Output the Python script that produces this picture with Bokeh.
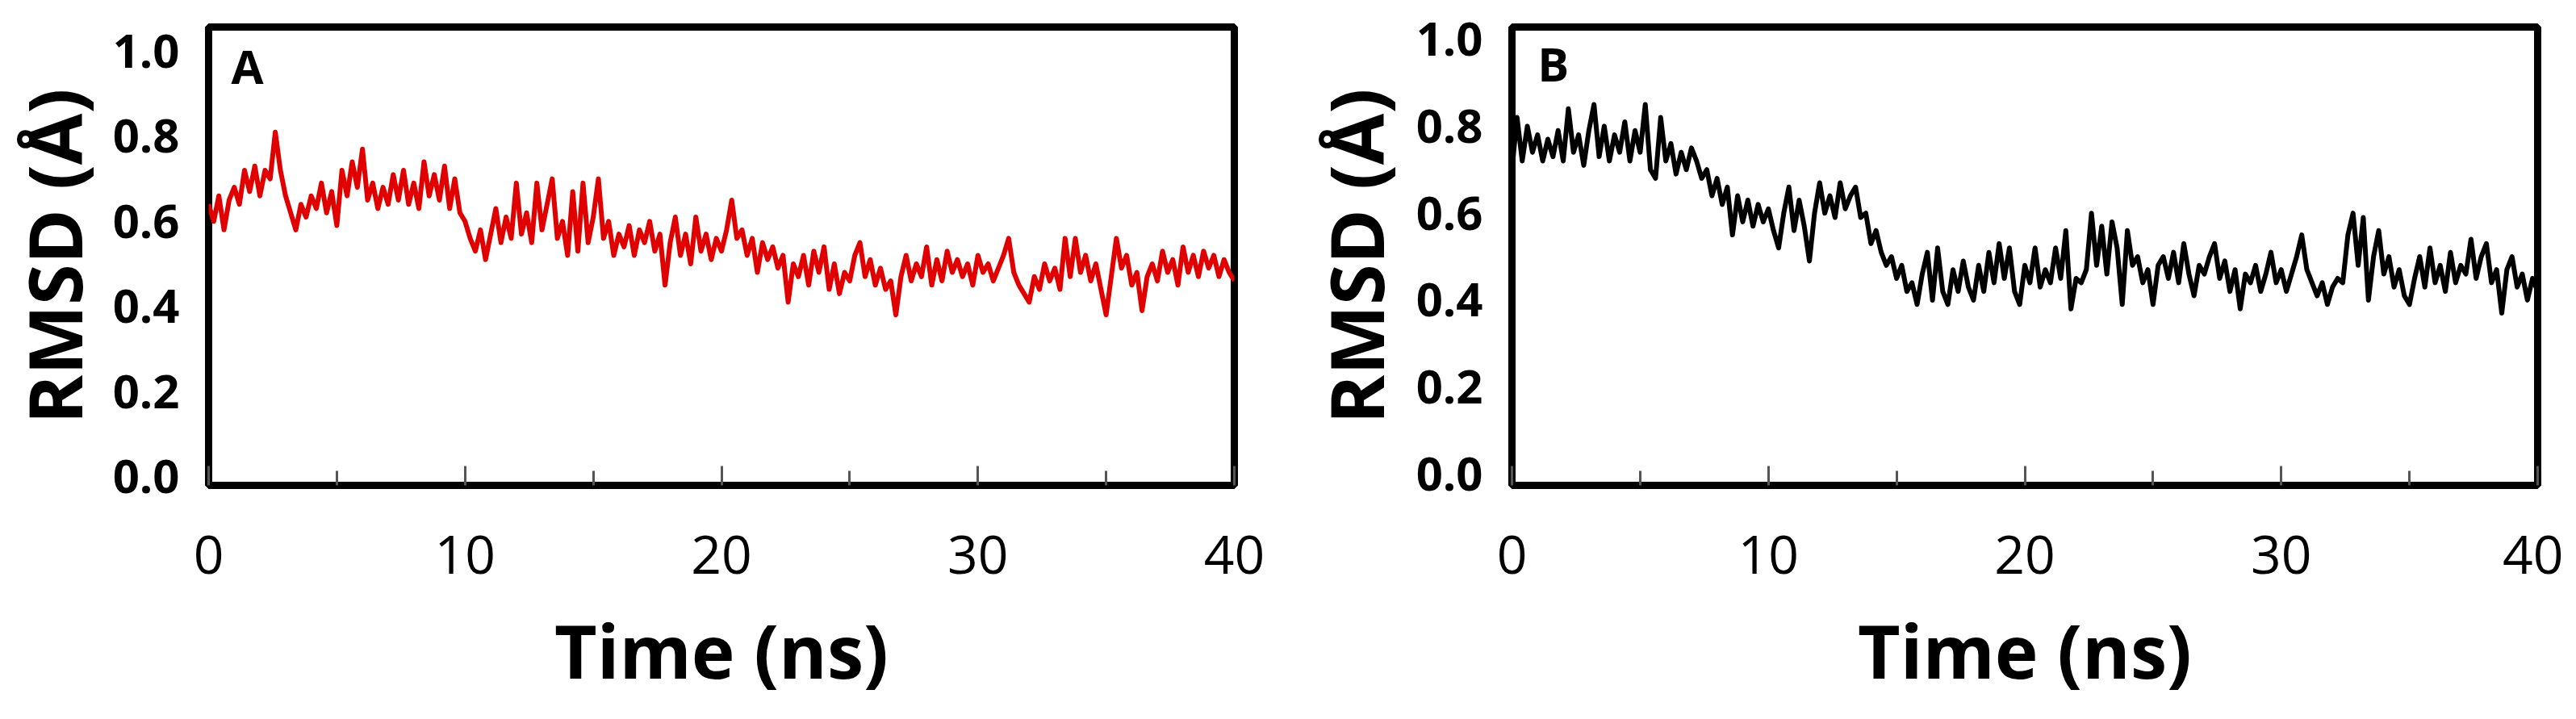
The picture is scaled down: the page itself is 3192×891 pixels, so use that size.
from bokeh.plotting import figure
from bokeh.layouts import row
from bokeh.models import FixedTicker, PrintfTickFormatter, Range1d, Label
from bokeh.embed import file_html
from bokeh.resources import INLINE

# sampling grid (ns)
time_ns = [round(0.2 * i, 1) for i in range(201)]

# Panel A (red) RMSD values
rmsd_a = [
    0.64, 0.60, 0.66, 0.58, 0.65, 0.68, 0.64, 0.72, 0.67, 0.73,
    0.66, 0.72, 0.70, 0.81, 0.72, 0.66, 0.62, 0.58, 0.64, 0.61,
    0.66, 0.63, 0.69, 0.62, 0.67, 0.59, 0.72, 0.66, 0.74, 0.68,
    0.77, 0.65, 0.69, 0.63, 0.68, 0.64, 0.71, 0.65, 0.72, 0.64,
    0.69, 0.63, 0.74, 0.66, 0.71, 0.65, 0.73, 0.63, 0.70, 0.62,
    0.60, 0.56, 0.53, 0.58, 0.51, 0.57, 0.63, 0.55, 0.61, 0.56,
    0.69, 0.57, 0.62, 0.55, 0.69, 0.58, 0.64, 0.70, 0.56, 0.60,
    0.52, 0.67, 0.53, 0.69, 0.55, 0.61, 0.70, 0.56, 0.60, 0.52,
    0.57, 0.54, 0.59, 0.52, 0.58, 0.55, 0.60, 0.53, 0.57, 0.45,
    0.55, 0.61, 0.52, 0.57, 0.50, 0.61, 0.53, 0.57, 0.51, 0.56,
    0.53, 0.58, 0.65, 0.56, 0.58, 0.52, 0.56, 0.48, 0.55, 0.51,
    0.54, 0.49, 0.52, 0.41, 0.50, 0.47, 0.52, 0.45, 0.53, 0.48,
    0.54, 0.44, 0.50, 0.43, 0.48, 0.46, 0.52, 0.55, 0.47, 0.51,
    0.45, 0.49, 0.44, 0.46, 0.38, 0.47, 0.52, 0.46, 0.50, 0.47,
    0.54, 0.45, 0.51, 0.46, 0.53, 0.48, 0.51, 0.47, 0.50, 0.45,
    0.52, 0.48, 0.50, 0.46, 0.49, 0.52, 0.56, 0.48, 0.45, 0.43,
    0.41, 0.47, 0.44, 0.50, 0.46, 0.49, 0.44, 0.56, 0.47, 0.56,
    0.48, 0.52, 0.46, 0.50, 0.44, 0.38, 0.47, 0.56, 0.49, 0.52,
    0.45, 0.48, 0.39, 0.47, 0.50, 0.46, 0.53, 0.48, 0.51, 0.45,
    0.54, 0.48, 0.52, 0.47, 0.53, 0.49, 0.52, 0.47, 0.51, 0.48,
    0.46,
]

# Panel B (black) RMSD values
rmsd_b = [
    0.70, 0.82, 0.72, 0.80, 0.74, 0.78, 0.72, 0.77, 0.73, 0.79,
    0.72, 0.84, 0.74, 0.78, 0.71, 0.79, 0.85, 0.73, 0.80, 0.72,
    0.78, 0.74, 0.81, 0.72, 0.79, 0.74, 0.85, 0.70, 0.68, 0.82,
    0.72, 0.76, 0.69, 0.74, 0.70, 0.75, 0.72, 0.68, 0.70, 0.64,
    0.68, 0.62, 0.66, 0.55, 0.64, 0.58, 0.63, 0.57, 0.62, 0.58,
    0.61, 0.56, 0.52, 0.60, 0.66, 0.56, 0.63, 0.57, 0.49, 0.60,
    0.67, 0.60, 0.64, 0.59, 0.67, 0.61, 0.64, 0.66, 0.59, 0.60,
    0.53, 0.56, 0.51, 0.48, 0.50, 0.45, 0.48, 0.42, 0.44, 0.39,
    0.46, 0.51, 0.40, 0.52, 0.42, 0.39, 0.47, 0.42, 0.49, 0.43,
    0.40, 0.48, 0.42, 0.51, 0.44, 0.53, 0.45, 0.52, 0.42, 0.39,
    0.48, 0.44, 0.52, 0.43, 0.47, 0.44, 0.52, 0.45, 0.56, 0.38,
    0.45, 0.44, 0.47, 0.60, 0.48, 0.57, 0.46, 0.58, 0.52, 0.39,
    0.56, 0.48, 0.50, 0.44, 0.47, 0.39, 0.48, 0.50, 0.45, 0.51,
    0.44, 0.53, 0.46, 0.41, 0.48, 0.46, 0.50, 0.53, 0.45, 0.49,
    0.42, 0.47, 0.38, 0.46, 0.44, 0.48, 0.42, 0.46, 0.51, 0.44,
    0.47, 0.42, 0.46, 0.50, 0.55, 0.47, 0.44, 0.41, 0.44, 0.39,
    0.43, 0.45, 0.44, 0.55, 0.60, 0.48, 0.59, 0.40, 0.50, 0.56,
    0.46, 0.50, 0.43, 0.47, 0.41, 0.39, 0.45, 0.50, 0.43, 0.52,
    0.44, 0.48, 0.42, 0.51, 0.44, 0.48, 0.46, 0.54, 0.45, 0.50,
    0.53, 0.44, 0.47, 0.37, 0.47, 0.50, 0.43, 0.46, 0.40, 0.45,
    0.42,
]

x_major = [0, 10, 20, 30, 40]
x_minor = [5, 15, 25, 35]
y_ticks = [0.0, 0.2, 0.4, 0.6, 0.8, 1.0]

FONT = "Open Sans"


def make_panel(xs, ys, color, letter, width, height, bl, br, bt, bb, y_start, y_end,
               title_standoff, letter_x, letter_y):
    p = figure(width=width, height=height, output_backend="svg", toolbar_location=None,
               x_range=Range1d(0, 40), y_range=Range1d(y_start, y_end),
               min_border_left=bl, min_border_right=br, min_border_top=bt, min_border_bottom=bb)
    p.grid.visible = False
    p.background_fill_color = "white"
    p.border_fill_color = "white"
    p.outline_line_color = "black"
    p.outline_line_width = 9
    p.outline_line_alpha = 1.0

    p.line(xs, ys, line_color=color, line_width=6, line_join="round")

    xa = p.xaxis[0]
    xa.ticker = FixedTicker(ticks=x_major, minor_ticks=x_minor)
    xa.axis_line_color = None
    xa.major_tick_in = 24
    xa.major_tick_out = 0
    xa.minor_tick_in = 18
    xa.minor_tick_out = 0
    xa.major_tick_line_width = 3
    xa.minor_tick_line_width = 3
    xa.major_tick_line_color = "#555555"
    xa.minor_tick_line_color = "#555555"
    xa.major_label_text_font = FONT
    xa.major_label_text_font_size = "66px"
    xa.major_label_text_color = "black"
    xa.major_label_standoff = 62
    xa.axis_label = "Time (ns)"
    xa.axis_label_text_font = FONT
    xa.axis_label_text_font_style = "bold"
    xa.axis_label_text_font_size = "91px"
    xa.axis_label_text_color = "black"
    xa.axis_label_standoff = 30

    ya = p.yaxis[0]
    ya.ticker = FixedTicker(ticks=y_ticks)
    ya.formatter = PrintfTickFormatter(format="%.1f")
    ya.axis_line_color = None
    ya.major_tick_line_color = None
    ya.minor_tick_line_color = None
    ya.major_tick_in = 0
    ya.major_tick_out = 0
    ya.major_label_text_font = FONT
    ya.major_label_text_font_style = "bold"
    ya.major_label_text_font_size = "58px"
    ya.major_label_text_color = "black"
    ya.major_label_standoff = 36
    ya.axis_label = "RMSD (Å)"
    ya.axis_label_text_font = FONT
    ya.axis_label_text_font_style = "bold"
    ya.axis_label_text_font_size = "92px"
    ya.axis_label_text_color = "black"
    ya.axis_label_standoff = title_standoff

    p.add_layout(Label(x=letter_x, y=letter_y, text=letter, text_font=FONT,
                       text_font_style="bold", text_font_size="58px",
                       text_color="black", text_align="left",
                       text_baseline="middle"))
    return p


pA = make_panel(time_ns, rmsd_a, "#e00000", "A", 1608, 875, 255, 79, 33, 274,
                -0.021, 1.057, 8, 0.88, 0.965)
pB = make_panel(time_ns, rmsd_b, "black", "B", 1568, 875, 265, 32, 30, 273,
                -0.026, 1.028, 10, 1.0, 0.945)

layout = row(pA, pB)
open("out.html", "w").write(file_html(layout, INLINE))
